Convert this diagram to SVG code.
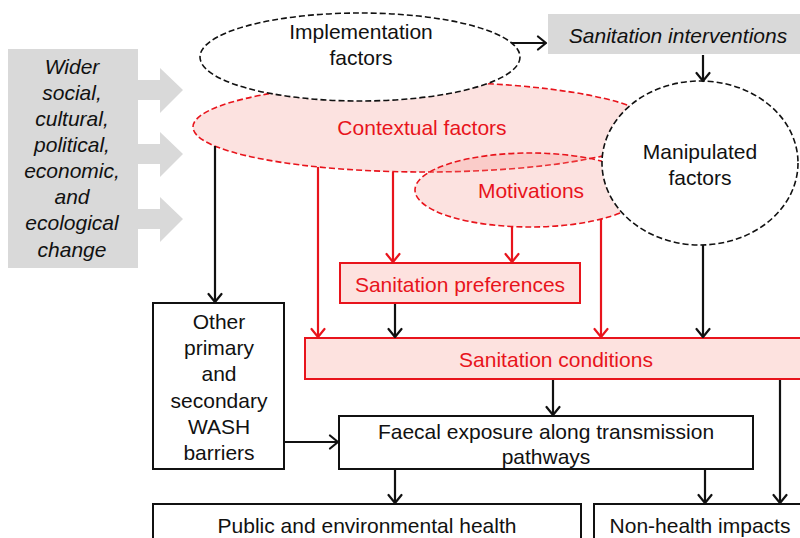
<svg xmlns="http://www.w3.org/2000/svg" width="800" height="538" viewBox="0 0 800 538">
  <style>
    .t { font-family: "Liberation Sans", Arial, sans-serif; font-size: 21px; text-anchor: middle; fill: #111; }
    .it { font-style: italic; }
    .red { fill: #e8141c; }
    .box { fill: #ffffff; stroke: #111; stroke-width: 2; }
    .pbox { fill: #fde2df; stroke: #e8141c; stroke-width: 2; }
    .gray { fill: #d9d9d9; }
    .dashk { fill: #ffffff; stroke: #111; stroke-width: 1.6; stroke-dasharray: 6 3; }
    .dashr { fill: #f28b82; fill-opacity: 0.25; stroke: #e8141c; stroke-width: 1.6; stroke-dasharray: 6 3; }
    .lk { fill: none; stroke: #111; stroke-width: 2.2; marker-end: url(#ak); }
    .lr { fill: none; stroke: #e8141c; stroke-width: 2.2; marker-end: url(#ar); }
  </style>
  <defs>
    <marker id="ak" markerUnits="userSpaceOnUse" viewBox="-10 -8 12 16" refX="0" refY="0" markerWidth="12" markerHeight="16" orient="auto">
      <path d="M-8,-6.5 L0,0 L-8,6.5" fill="none" stroke="#111" stroke-width="2.2" stroke-linejoin="round" stroke-linecap="round"/>
    </marker>
    <marker id="ar" markerUnits="userSpaceOnUse" viewBox="-10 -8 12 16" refX="0" refY="0" markerWidth="12" markerHeight="16" orient="auto">
      <path d="M-8,-6.5 L0,0 L-8,6.5" fill="none" stroke="#e8141c" stroke-width="2.2" stroke-linejoin="round" stroke-linecap="round"/>
    </marker>
  </defs>

  <rect width="800" height="538" fill="#ffffff"/>

  <!-- wider drivers panel with block arrows -->
  <g id="wider-change">
    <rect class="gray" x="8" y="49" width="130" height="219"/>
    <path class="gray" d="M138,80 H160 V68 L183,90 L160,113 V100 H138 Z"/>
    <path class="gray" d="M138,144 H160 V132 L183,154 L160,177 V164 H138 Z"/>
    <path class="gray" d="M138,209 H160 V197 L183,219 L160,242 V229 H138 Z"/>
    <text class="t it" x="72" y="74">Wider</text>
    <text class="t it" x="72" y="100">social,</text>
    <text class="t it" x="72" y="126">cultural,</text>
    <text class="t it" x="72" y="152">political,</text>
    <text class="t it" x="72" y="178">economic,</text>
    <text class="t it" x="72" y="204">and</text>
    <text class="t it" x="72" y="230">ecological</text>
    <text class="t it" x="72" y="257">change</text>
  </g>

  <g id="contextual-factors">
    <ellipse class="dashr" cx="425" cy="127" rx="232" ry="45"/>
    <text class="t red" x="422" y="135">Contextual factors</text>
  </g>

  <g id="motivations">
    <ellipse class="dashr" cx="530" cy="190" rx="115" ry="37"/>
    <text class="t red" x="531" y="198">Motivations</text>
  </g>

  <g id="implementation-factors">
    <ellipse class="dashk" cx="360" cy="57" rx="160" ry="44"/>
    <text class="t" x="361" y="39">Implementation</text>
    <text class="t" x="361" y="65">factors</text>
  </g>

  <g id="sanitation-interventions">
    <rect class="gray" x="548" y="14" width="252" height="40"/>
    <text class="t it" x="678" y="43">Sanitation interventions</text>
  </g>

  <g id="manipulated-factors">
    <ellipse class="dashk" cx="700" cy="163" rx="98" ry="82"/>
    <text class="t" x="700" y="159">Manipulated</text>
    <text class="t" x="700" y="185">factors</text>
  </g>

  <g id="sanitation-preferences">
    <rect class="pbox" x="340" y="263" width="240" height="40"/>
    <text class="t red" x="460" y="292">Sanitation preferences</text>
  </g>

  <g id="sanitation-conditions">
    <rect class="pbox" x="305" y="338" width="500" height="41"/>
    <text class="t red" x="556" y="367">Sanitation conditions</text>
  </g>

  <g id="other-barriers">
    <rect class="box" x="153" y="303" width="131" height="166"/>
    <text class="t" x="219" y="329">Other</text>
    <text class="t" x="219" y="355">primary</text>
    <text class="t" x="219" y="381">and</text>
    <text class="t" x="219" y="408">secondary</text>
    <text class="t" x="219" y="434">WASH</text>
    <text class="t" x="219" y="460">barriers</text>
  </g>

  <g id="faecal-exposure">
    <rect class="box" x="339" y="416" width="414" height="53"/>
    <text class="t" x="546" y="439">Faecal exposure along transmission</text>
    <text class="t" x="546" y="464">pathways</text>
  </g>

  <g id="health-outcomes">
    <rect class="box" x="153" y="504" width="428" height="50"/>
    <text class="t" x="367" y="533">Public and environmental health</text>
  </g>

  <g id="non-health-impacts">
    <rect class="box" x="594" y="504" width="220" height="50"/>
    <text class="t" x="700" y="533">Non-health impacts</text>
  </g>

  <g id="connectors">
    <line class="lk" x1="512" y1="43" x2="546" y2="43"/>
    <line class="lk" x1="703" y1="55" x2="703" y2="81"/>
    <line class="lk" x1="215" y1="146" x2="215" y2="302"/>
    <line class="lr" x1="318" y1="167" x2="318" y2="337"/>
    <line class="lr" x1="393" y1="172" x2="393" y2="262"/>
    <line class="lr" x1="512" y1="227" x2="512" y2="262"/>
    <line class="lr" x1="601" y1="219" x2="601" y2="337"/>
    <line class="lk" x1="395" y1="304" x2="395" y2="337"/>
    <line class="lk" x1="703" y1="245" x2="703" y2="337"/>
    <line class="lk" x1="553" y1="380" x2="553" y2="415"/>
    <line class="lk" x1="780" y1="380" x2="780" y2="503"/>
    <line class="lk" x1="285" y1="442" x2="338" y2="442"/>
    <line class="lk" x1="395" y1="470" x2="395" y2="503"/>
    <line class="lk" x1="705" y1="470" x2="705" y2="503"/>
  </g>
</svg>
